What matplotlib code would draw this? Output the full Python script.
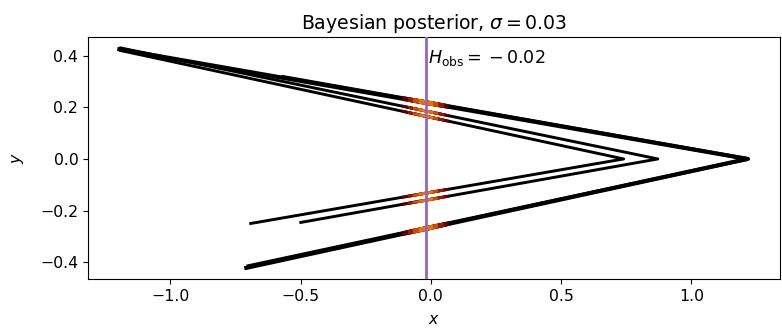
import numpy as np
import matplotlib
matplotlib.use('Agg')
import matplotlib.pyplot as plt
from matplotlib.patches import Rectangle

# observation and noise level
H_obs = -0.02
sigma = 0.03

# chevron-shaped trajectories (x, y)
outer_x = [-1.195, 1.215, -0.708]
outer_y = [0.425, 0.0, -0.422]
outer2_x = [-0.567, 1.218, -0.70]
outer2_y = [0.318, 0.0, -0.415]
middle_x = [-1.19, 0.871, -0.499]
middle_y = [0.43, 0.0, -0.246]
inner_x = [-1.19, 0.740, -0.691]
inner_y = [0.42, 0.0, -0.25]

tracks = [(outer_x, outer_y, 3.0), (outer2_x, outer2_y, 2.6),
          (middle_x, middle_y, 2.1), (inner_x, inner_y, 2.1)]

# weight levels shown around H_obs (in units of sigma)
band_k = [3.0, 2.3, 1.6, 0.9]
band_w = [0.18, 0.3, 0.4, 0.47]

plt.rcParams['font.size'] = 11.3

fig, ax = plt.subplots(figsize=(7.82, 3.3), dpi=100)
fig.subplots_adjust(left=0.1125, right=0.997, top=0.888, bottom=0.155)

for xs, ys, lw in tracks:
    ax.plot(xs, ys, color='black', lw=lw, zorder=2)

# posterior weight near the observation, shown in warm colours
cmap = plt.get_cmap('afmhot')
for k, w in zip(band_k, band_w):
    for xs, ys, lw in tracks:
        line, = ax.plot(xs, ys, color=cmap(w), lw=lw, zorder=3)
        rect = Rectangle((H_obs - k * sigma, -1), 2 * k * sigma, 2,
                         transform=ax.transData)
        line.set_clip_path(rect)

ax.axvline(H_obs, color='tab:purple', lw=2, zorder=4)
ax.text(H_obs + 0.01, 0.39, r'$H_{\rm obs} = {}-0.02$', va='center',
        fontsize=12.6)

ax.set_title(r'Bayesian posterior, $\sigma = 0.03$')
ax.set_xlabel('$x$', labelpad=6)
ax.set_ylabel('$y$', labelpad=10)

plt.savefig('out.png')
